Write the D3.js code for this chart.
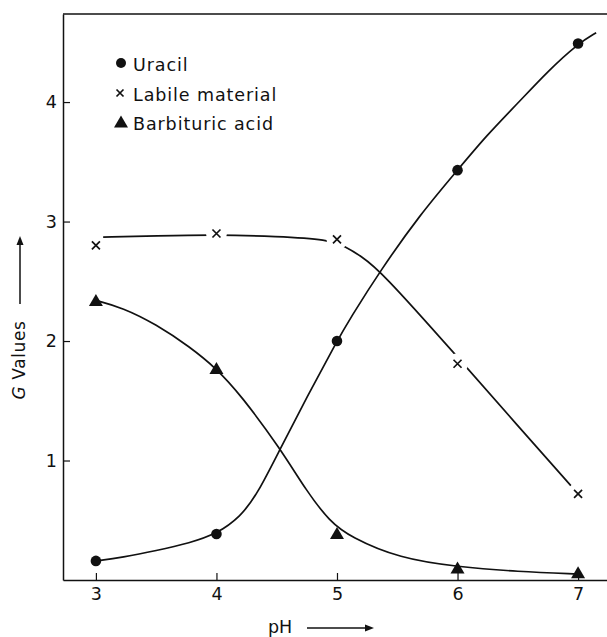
<!DOCTYPE html>
<html>
<head>
<meta charset="utf-8">
<script src="https://cdn.jsdelivr.net/npm/d3@7"></script>
<style>
  html, body { margin: 0; padding: 0; background: #fff; }
  svg { display: block; }
  text { font-family: "DejaVu Sans", sans-serif; fill: #111; }
</style>
</head>
<body>
<svg id="chart" width="607" height="637"></svg>
<script>
// pH values at which the samples were measured
const phValues = [3, 4, 5, 6, 7];

// Measured G values per product
const uracil = [0.16, 0.385, 2.0, 3.43, 4.49];
const labile = [2.80, 2.90, 2.85, 1.81, 0.72];
const barbituric = [2.34, 1.77, 0.39, 0.10, 0.06];

// Smoothed curves drawn through the measurements: [pH, G]
const uracilCurve = [[3.0, 0.16], [3.22, 0.19], [3.5, 0.245], [3.78, 0.31], [4.0, 0.385], [4.2, 0.53],
  [4.34, 0.72], [4.53, 1.10], [4.75, 1.53], [5.0, 2.0], [5.11, 2.19], [5.36, 2.59], [5.69, 3.06],
  [6.0, 3.43], [6.24, 3.72], [6.5, 3.99], [6.75, 4.26], [7.0, 4.49], [7.15, 4.58]];
const labileCurve = [[3.06, 2.87], [3.5, 2.88], [4.0, 2.89], [4.5, 2.875], [4.93, 2.85], [5.07, 2.79],
  [5.2, 2.71], [5.36, 2.59], [5.98, 1.89], [6.5, 1.29], [6.94, 0.79]];
const barbituricCurve = [[3.0, 2.34], [3.22, 2.28], [3.5, 2.14], [3.78, 1.95], [4.0, 1.77], [4.2, 1.55],
  [4.53, 1.10], [4.75, 0.74], [4.94, 0.49], [5.11, 0.36], [5.52, 0.18], [6.0, 0.11], [6.5, 0.07], [7.0, 0.05]];

// Axis ticks
const xTicks = [3, 4, 5, 6, 7];
const yTicks = [1, 2, 3, 4];

// Legend entries
const legendItems = ["Uracil", "Labile material", "Barbituric acid"];

const svg = d3.select("#chart");
const x = d3.scaleLinear().domain([2.727, 7.24]).range([63, 607]);
const y = d3.scaleLinear().domain([0, 4.737]).range([580, 14]);

const ink = "#111";

// Frame: top rule
svg.append("line")
  .attr("x1", 63).attr("x2", 607).attr("y1", y(4.737)).attr("y2", y(4.737))
  .attr("stroke", ink).attr("stroke-width", 1.5);

// Axes with inward ticks
const yAxis = svg.append("g").attr("transform", `translate(${x(2.727)},0)`)
  .call(d3.axisLeft(y).tickValues(yTicks).tickFormat(d3.format("d"))
    .tickSizeInner(-7).tickSizeOuter(0).tickPadding(6));
const xAxis = svg.append("g").attr("transform", `translate(0,${y(0)})`)
  .call(d3.axisBottom(x).tickValues(xTicks).tickFormat(d3.format("d"))
    .tickSizeInner(-7).tickSizeOuter(0).tickPadding(8));
[yAxis, xAxis].forEach(g => {
  g.select(".domain").attr("stroke", ink).attr("stroke-width", 1.5);
  g.selectAll(".tick line").attr("stroke", ink).attr("stroke-width", 1.2);
  g.selectAll(".tick text").attr("font-size", 17.5).attr("fill", ink)
    .style("font-family", "'DejaVu Sans', sans-serif");
});

// Curves
const line = d3.line().x(d => x(d[0])).y(d => y(d[1])).curve(d3.curveBasis);
[uracilCurve, labileCurve, barbituricCurve].forEach(c => {
  svg.append("path").attr("d", line(c))
    .attr("fill", "none").attr("stroke", ink).attr("stroke-width", 1.7);
});

// Gaps in the labile curve around its markers
svg.append("g").selectAll("circle").data(phValues).join("circle")
  .attr("cx", (d) => x(d)).attr("cy", (d, i) => y(labile[i]))
  .attr("r", 10.5).attr("fill", "#fff");

// Markers
const triPath = "M0,-6.5 L7,5.5 L-7,5.5 Z";
const crossPath = "M-4,-4 L4,4 M-4,4 L4,-4";

svg.append("g").selectAll("circle").data(phValues).join("circle")
  .attr("cx", d => x(d)).attr("cy", (d, i) => y(uracil[i]))
  .attr("r", 5.3).attr("fill", ink);

svg.append("g").selectAll("path").data(phValues).join("path")
  .attr("transform", (d, i) => `translate(${x(d)},${y(labile[i])})`)
  .attr("d", crossPath).attr("stroke", ink).attr("stroke-width", 1.7).attr("fill", "none");

svg.append("g").selectAll("path").data(phValues).join("path")
  .attr("transform", (d, i) => `translate(${x(d)},${y(barbituric[i])})`)
  .attr("d", triPath).attr("fill", ink);

// Legend
const legend = svg.append("g").attr("transform", "translate(121,0)");
const legendY = [63, 93, 122];
legend.append("circle").attr("cx", 0).attr("cy", legendY[0]).attr("r", 5).attr("fill", ink);
legend.append("path").attr("transform", `translate(-1,${legendY[1]})`)
  .attr("d", "M-3.5,-3.5 L3.5,3.5 M-3.5,3.5 L3.5,-3.5").attr("stroke", ink).attr("stroke-width", 1.7);
legend.append("path").attr("transform", `translate(0,${legendY[2]})`)
  .attr("d", triPath).attr("fill", ink);
legend.selectAll("text.item").data(legendItems).join("text")
  .attr("class", "item")
  .attr("x", 12).attr("y", (d, i) => legendY[i] + 7.5)
  .attr("font-size", 17.5).attr("letter-spacing", 0.9)
  .text(d => d);

// Axis titles with arrows
svg.append("text").attr("x", 268).attr("y", 633).attr("font-size", 17.5).text("pH");
svg.append("line").attr("x1", 307).attr("x2", 368).attr("y1", 628).attr("y2", 628)
  .attr("stroke", ink).attr("stroke-width", 1.5);
svg.append("path").attr("d", "M374,628 L365,624.5 L365,631.5 Z").attr("fill", ink);

const yTitle = svg.append("text")
  .attr("transform", "translate(25,360) rotate(-90)")
  .attr("text-anchor", "middle").attr("font-size", 17).attr("letter-spacing", 0.6);
yTitle.append("tspan").attr("font-style", "italic").text("G");
yTitle.append("tspan").text(" Values");
svg.append("line").attr("x1", 20).attr("x2", 20).attr("y1", 304).attr("y2", 244)
  .attr("stroke", ink).attr("stroke-width", 1.5);
svg.append("path").attr("d", "M20,236 L16.5,245 L23.5,245 Z").attr("fill", ink);
</script>
</body>
</html>
